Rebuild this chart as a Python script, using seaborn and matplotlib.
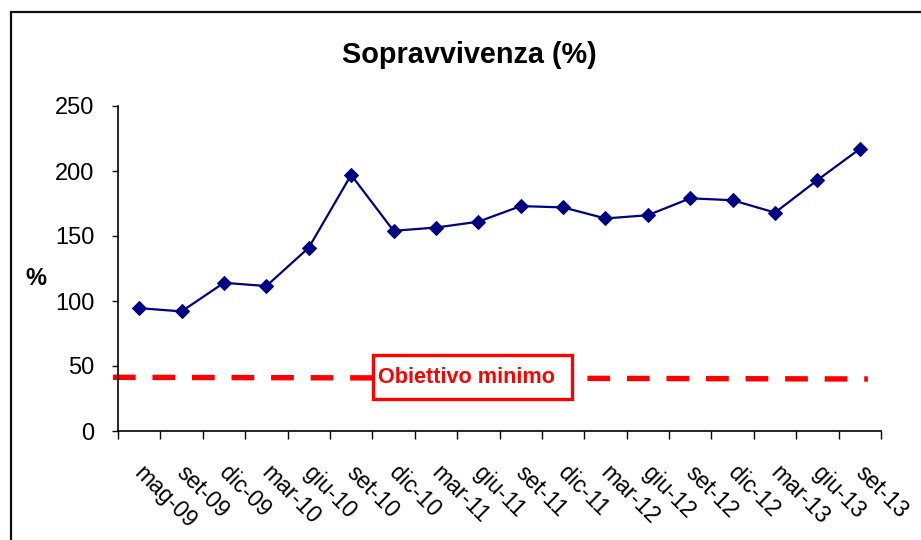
import numpy as np
import pandas as pd
import matplotlib
matplotlib.use("Agg")
import matplotlib.pyplot as plt
from matplotlib.patches import Rectangle
from matplotlib.ticker import FixedLocator, NullFormatter
import seaborn as sns

# Quarterly survival rate (%)
periodi = ["mag-09", "set-09", "dic-09", "mar-10", "giu-10", "set-10",
           "dic-10", "mar-11", "giu-11", "set-11", "dic-11", "mar-12",
           "giu-12", "set-12", "dic-12", "mar-13", "giu-13", "set-13"]
sopravvivenza = [94.5, 92, 114, 111.5, 141, 197, 154, 156.5, 161, 173,
                 172, 163.5, 166, 179, 177.5, 168, 193, 217]
# Minimum target line (start / end level)
obiettivo = [41.3, 40.0]
y_ticks = [0, 50, 100, 150, 200, 250]

sns.set_theme(style="white")
plt.rcParams["font.family"] = ["Liberation Sans", "DejaVu Sans"]

W, H = 921, 540
fig = plt.figure(figsize=(W / 100, H / 100), dpi=100)
fig.patch.set_facecolor("white")
ax = fig.add_axes([118 / W, 1 - 431 / H, 763 / W, 325 / H])

df = pd.DataFrame({"pos": np.arange(len(periodi)), "val": sopravvivenza})
sns.lineplot(data=df, x="pos", y="val", ax=ax, color="#000080",
             linewidth=1.6, marker="D", markersize=7.5,
             markeredgecolor="#000080", markerfacecolor="#000080", zorder=3)

# target line, spanning a bit past the first and last periods
ax.plot([-0.62, 17.19], obiettivo, color="#ff0000", linewidth=3.9,
        linestyle=(0, (4.2, 3.1)), clip_on=False, zorder=2,
        solid_capstyle="butt", dash_capstyle="butt")

# label box for the target line
ax.add_patch(Rectangle((5.51, 24.6), 4.7, 33.9, facecolor="white",
                       edgecolor="#ff0000", linewidth=2.4, zorder=4))
ax.text(7.72, 41.5, "Obiettivo minimo", color="#ff0000", fontsize=15.6,
        fontweight="bold", ha="center", va="center", zorder=5)

ax.set_xlim(-0.5, len(periodi) - 0.5)
ax.set_ylim(0, 250)
ax.set_yticks(y_ticks)
ax.set_yticklabels([str(t) for t in y_ticks], fontsize=17, color="black")

# labels hang from just right of each period centre; tick marks sit on
# the period boundaries
ax.set_xticks(np.arange(len(periodi)) + 0.16)
ax.set_xticklabels(periodi, fontsize=16.5, color="black", rotation=-45,
                   ha="left", va="top", rotation_mode="anchor")
ax.xaxis.set_minor_locator(FixedLocator(np.arange(len(periodi) + 1) - 0.5))
ax.xaxis.set_minor_formatter(NullFormatter())
ax.tick_params(axis="x", which="major", length=0, pad=22)
ax.tick_params(axis="x", which="minor", length=5.5, width=1.0,
               color="black", direction="out", bottom=True)
ax.tick_params(axis="y", which="major", length=4.5, width=1.0,
               color="black", direction="out", left=True, pad=12.5)

ax.set_xlabel("")
ax.set_ylabel("")
for side in ("top", "right"):
    ax.spines[side].set_visible(False)
for side in ("left", "bottom"):
    ax.spines[side].set_color("black")
    ax.spines[side].set_linewidth(1.2)
ax.set_facecolor("white")

fig.text(469.5 / W, 1 - 63 / H, "Sopravvivenza (%)", fontsize=20.8,
         fontweight="bold", ha="center", va="baseline", color="black")
fig.text(36 / W, 1 - 285 / H, "%", fontsize=17, fontweight="bold",
         ha="center", va="baseline", color="black")

# chart frame
fig.add_artist(Rectangle((11 / W, -0.2), 1.5, (H - 12) / H + 0.2,
                         transform=fig.transFigure, fill=False,
                         edgecolor="#111111", linewidth=1.6))

fig.savefig("out.png", dpi=100, facecolor="white")
